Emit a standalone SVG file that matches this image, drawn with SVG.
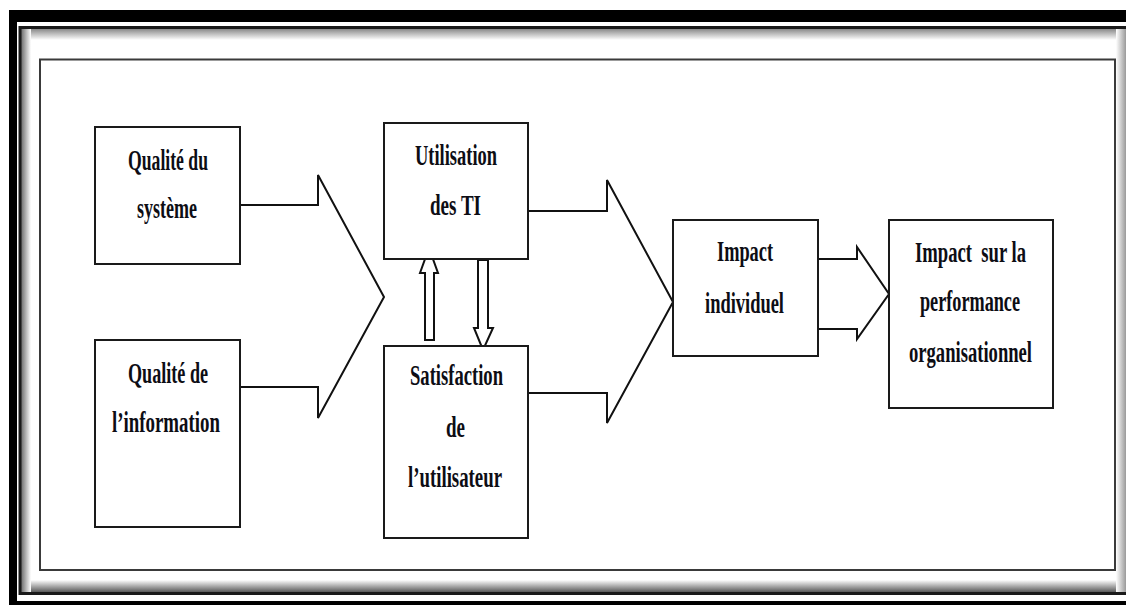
<svg xmlns="http://www.w3.org/2000/svg" width="1126" height="605" viewBox="0 0 1126 605">
  <defs>
    <linearGradient id="gTop" x1="0" y1="0" x2="0" y2="1">
      <stop offset="0" stop-color="#8a8a8a"/>
      <stop offset="1" stop-color="#ffffff"/>
    </linearGradient>
    <linearGradient id="gBottom" x1="0" y1="1" x2="0" y2="0">
      <stop offset="0" stop-color="#5a5a5a"/>
      <stop offset="1" stop-color="#ffffff"/>
    </linearGradient>
    <linearGradient id="gLeft" x1="0" y1="0" x2="1" y2="0">
      <stop offset="0" stop-color="#6a6a6a"/>
      <stop offset="1" stop-color="#ffffff"/>
    </linearGradient>
    <linearGradient id="gRight" x1="1" y1="0" x2="0" y2="0">
      <stop offset="0" stop-color="#9a9a9a"/>
      <stop offset="1" stop-color="#ffffff"/>
    </linearGradient>
  </defs>
  <style>
    .box { fill: #ffffff; stroke: #1a1a1a; stroke-width: 2; }
    .conn { fill: none; stroke: #111111; stroke-width: 2; stroke-linejoin: miter; }
    .hollow { fill: #ffffff; stroke: #111111; stroke-width: 2; }
    .lbl { font-family: "Liberation Serif", "Times New Roman", serif; font-weight: bold; font-size: 30px; fill: #0d0d14; text-anchor: middle; }
  </style>

  <!-- frame -->
  <g id="frame">
    <rect x="0" y="0" width="1126" height="605" fill="#ffffff"/>
    <rect x="9" y="10" width="1140" height="620" fill="#000000"/>
    <rect x="17" y="22" width="1130" height="579" fill="#ffffff"/>
    <rect x="21" y="29" width="1110" height="563" fill="#ffffff"/>
    <rect x="21" y="29" width="1110" height="11" fill="url(#gTop)"/>
    <rect x="21" y="580" width="1110" height="12" fill="url(#gBottom)"/>
    <rect x="21" y="29" width="10" height="563" fill="url(#gLeft)"/>
    <rect x="1116" y="29" width="10" height="563" fill="url(#gRight)"/>
    <rect x="20" y="27.5" width="1130" height="566" fill="none" stroke="#1a1a1a" stroke-width="3"/>
    <rect x="40" y="59.5" width="1075" height="510.5" fill="#ffffff" stroke="#3a3a3a" stroke-width="2"/>
  </g>

  <!-- connectors -->
  <g id="connectors">
    <path class="conn" d="M240,205 L318,205 L318,175 L384,297 L318,418 L318,387 L240,387"/>
    <path class="conn" d="M528,211 L607,211 L607,180 L673,302 L607,423 L607,393 L528,393"/>
    <path class="conn" d="M818,259 L857,259 L857,247 L889,294 L857,339 L857,329 L818,329"/>
    <polygon class="hollow" points="425,340 434,340 434,273 438,273 429,248 420,273 425,273"/>
    <polygon class="hollow" points="478,260 488,260 488,328 493,328 483,350 474,328 478,328"/>
  </g>

  <g id="qualite-systeme">
    <rect class="box" x="95" y="127" width="145" height="137"/>
    <text class="lbl" x="168" y="170" textLength="80" lengthAdjust="spacingAndGlyphs">Qualité du</text>
    <text class="lbl" x="167" y="218" textLength="60" lengthAdjust="spacingAndGlyphs">système</text>
  </g>

  <g id="qualite-information">
    <rect class="box" x="95" y="340" width="145" height="187"/>
    <text class="lbl" x="168" y="383" textLength="80" lengthAdjust="spacingAndGlyphs">Qualité de</text>
    <text class="lbl" x="166" y="432" textLength="108" lengthAdjust="spacingAndGlyphs">l’information</text>
  </g>

  <g id="utilisation-ti">
    <rect class="box" x="384" y="123" width="144" height="136"/>
    <text class="lbl" x="456" y="165" textLength="82" lengthAdjust="spacingAndGlyphs">Utilisation</text>
    <text class="lbl" x="455.5" y="215" textLength="51" lengthAdjust="spacingAndGlyphs">des TI</text>
  </g>

  <g id="satisfaction-utilisateur">
    <rect class="box" x="384" y="346" width="144" height="192"/>
    <text class="lbl" x="456.5" y="385" textLength="93" lengthAdjust="spacingAndGlyphs">Satisfaction</text>
    <text class="lbl" x="455.5" y="437" textLength="19" lengthAdjust="spacingAndGlyphs">de</text>
    <text class="lbl" x="455" y="487" textLength="94" lengthAdjust="spacingAndGlyphs">l’utilisateur</text>
  </g>

  <g id="impact-individuel">
    <rect class="box" x="673" y="220" width="145" height="136"/>
    <text class="lbl" x="745" y="261" textLength="56" lengthAdjust="spacingAndGlyphs">Impact</text>
    <text class="lbl" x="744.5" y="313" textLength="79" lengthAdjust="spacingAndGlyphs">individuel</text>
  </g>

  <g id="impact-performance">
    <rect class="box" x="889" y="220" width="164" height="188"/>
    <text class="lbl" x="970.5" y="262" textLength="111" lengthAdjust="spacingAndGlyphs" style="white-space:pre">Impact  sur la</text>
    <text class="lbl" x="970" y="311" textLength="100" lengthAdjust="spacingAndGlyphs">performance</text>
    <text class="lbl" x="970.5" y="362" textLength="123" lengthAdjust="spacingAndGlyphs">organisationnel</text>
  </g>
</svg>
